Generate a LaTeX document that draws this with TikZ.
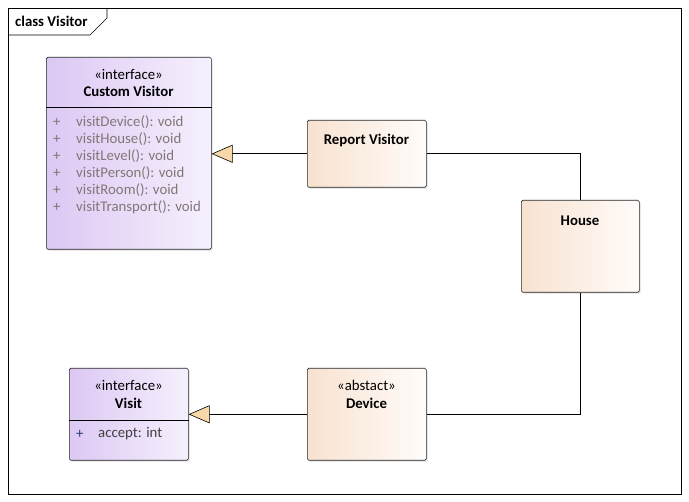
\documentclass[tikz,border=0pt]{standalone}
\usepackage{fontspec}
\setmainfont{Carlito}
\usepackage{tikz}
\usetikzlibrary{positioning, arrows.meta, calc, shadows}
\definecolor{ifaceL}{HTML}{DCC8F4}
\definecolor{ifaceR}{HTML}{F6F0FD}
\definecolor{clsL}{HTML}{F8E2D0}
\definecolor{clsR}{HTML}{FFFCFA}
\definecolor{tipfill}{HTML}{F8D8A8}
\definecolor{opgray}{HTML}{827777}
\definecolor{plusblue}{HTML}{2A3F78}

\begin{document}
\begin{tikzpicture}[x=1pt, y=-1pt,
        every node/.style={font=\fontsize{14.8}{17}\selectfont, inner sep=0pt},
        cls/.style={draw=black!85, rounded corners=1.5pt, line width=0.6pt,
          anchor=north west,
          drop shadow={opacity=0.18, shadow xshift=1.5pt, shadow yshift=-1.5pt}},
        iface/.style={cls, left color=ifaceL, right color=ifaceR},
        klass/.style={cls, left color=clsL, right color=clsR},
        title/.style={font=\fontsize{14.8}{17}\selectfont\bfseries},
        member/.style={anchor=west, text=opgray},
        realize/.style={-{Triangle[length=21pt, width=18pt, fill=tipfill]}, line width=0.6pt},
        link/.style={line width=0.6pt}]
      \useasboundingbox (0,0) rectangle (689,502);
      \fill[white] (0,0) rectangle (689,502);
      % frame
      \draw[line width=0.6pt] (8,8) rectangle (681,494);
      \draw[line width=0.6pt] (8,35) -- (90,35) -- (107,18) -- (107,8);
      \node[title, anchor=west] (frame) at (15,21) {class Visitor};
      % interfaces
      \node[iface, minimum width=165pt, minimum height=192pt] (cv) at (46,57) {};
      \node (cvst) at (128.5,74) {«interface»};
      \node[title] (cvname) at (128.5,91) {Custom Visitor};
      \draw[line width=0.6pt] ([yshift=-50pt]cv.north west) -- ([yshift=-50pt]cv.north east);
      \foreach \op [count=\i] in {visitDevice(): void, visitHouse(): void,
          visitLevel(): void, visitPerson(): void, visitRoom(): void,
          visitTransport(): void} {
        \node[member] (plus\i) at (53,{122+17*(\i-1)}) {+};
        \node[member] (op\i) at (76,{122+17*(\i-1)}) {\op};
      }
      \node[iface, minimum width=119pt, minimum height=92pt] (vis) at (69,368) {};
      \node (visst) at (128.5,385) {«interface»};
      \node[title] (visname) at (128.5,403) {Visit};
      \draw[line width=0.6pt] ([yshift=-52pt]vis.north west) -- ([yshift=-52pt]vis.north east);
      \node[member, text=plusblue] (vplus) at (76,434) {+};
      \node[member, text=black!75] (vattr) at (98,434) {accept: int};
      % classes
      \node[klass, minimum width=119pt, minimum height=67pt] (rv) at (307,120) {};
      \node[title] (rvname) at (366.5,140) {Report Visitor};
      \node[klass, minimum width=118pt, minimum height=92pt] (house) at (521,200) {};
      \node[title] (housename) at (580,221) {House};
      \node[klass, minimum width=119pt, minimum height=92pt] (dev) at (307,368) {};
      \node (devst) at (366.5,385) {«abstact»};
      \node[title] (devname) at (366.5,403) {Device};
      % connectors
      \draw[realize] (rv.west) -- (rv.west -| cv.east);
      \draw[realize] (dev.west) -- (dev.west -| vis.east);
      \draw[link] (rv.east) -| (house.north);
      \draw[link] (house.south) |- (dev.east);
    \end{tikzpicture}
\end{document}
